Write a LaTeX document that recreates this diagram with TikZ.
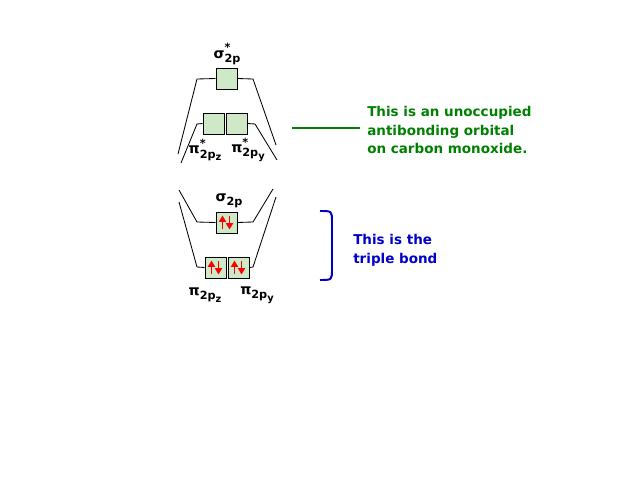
\documentclass[tikz,border=0pt]{standalone}
\usepackage{fontspec}
\setmainfont{DejaVu Sans}
\usetikzlibrary{arrows.meta,positioning,calc}
\definecolor{moFill}{RGB}{206,232,200}
\definecolor{moGreen}{RGB}{0,128,0}
\definecolor{moBlue}{RGB}{0,0,200}
%% orbital name with stacked super- and subscript
\newcommand{\moName}[3]{#1\rlap{\raisebox{4.5pt}{\fontsize{8}{8}\selectfont #2}}\raisebox{-3pt}{\fontsize{8}{8}\selectfont #3}}
\newcommand{\moAxis}[1]{\raisebox{-2pt}{\fontsize{7}{7}\selectfont #1}}
\tikzset{
  %% Orbital boxes
  moBox/.style={draw=black, fill=moFill, minimum size=0.525cm, inner sep=0pt, line width=0.7pt},
  %% Correlation lines
  moLine/.style={draw=black, line width=0.6pt},
  %% Electron spins
  moSpin/.style={-{Triangle[length=4.5pt,width=5pt]}, draw=red, fill=red, line width=1.1pt},
  %% Orbital labels
  moLabel/.style={font=\fontsize{10}{12}\selectfont\bfseries, inner sep=0pt},
  %% Side notes
  moNote/.style={font=\fontsize{9.6}{13.2}\selectfont\bfseries, align=left, inner sep=0pt, anchor=north west},
}
\begin{document}
\begin{tikzpicture}[x=0.025cm, y=-0.025cm]
\useasboundingbox (0,0) rectangle (640,480);
%% Antibonding orbitals
\node[moBox] (oSigS) at (226.5, 78.5) {};
\node[moBox] (oPiZs) at (213.5,123.5) {};
\node[moBox] (oPiYs) at (236.5,123.5) {};
\node[moLabel] (lSigS) at (227,54) {\moName{σ}{*}{2p}};
\node[moLabel] (lPiZs) at (205,150) {\moName{π}{*}{2p\moAxis{z}}};
\node[moLabel] (lPiYs) at (248,150) {\moName{π}{*}{2p\moAxis{y}}};

%% Bonding orbitals
\node[moBox] (oSig) at (226.5,222.5) {};
\node[moBox] (oPiZ) at (215.5,267.5) {};
\node[moBox] (oPiY) at (238.5,267.5) {};
\node[moLabel] (lSig) at (229,201) {\moName{σ}{}{2p}};
\node[moLabel] (lPiZ) at (205,295) {\moName{π}{}{2p\moAxis{z}}};
\node[moLabel] (lPiY) at (257,295) {\moName{π}{}{2p\moAxis{y}}};

%% Line ends
\coordinate (cSigSL) at (197,79);  \coordinate (cSigSLe) at (178,154);
\coordinate (cSigSR) at (253,79);  \coordinate (cSigSRe) at (276,145);
\coordinate (cPiSL)  at (197,124); \coordinate (cPiSLe)  at (181,163);
\coordinate (cPiSR)  at (255,124); \coordinate (cPiSRe)  at (277,160);
\coordinate (cSigL)  at (197,222); \coordinate (cSigLe)  at (179,190);
\coordinate (cSigR)  at (253,222); \coordinate (cSigRe)  at (273,189);
\coordinate (cPiL)   at (197,267); \coordinate (cPiLe)   at (179,202);
\coordinate (cPiR)   at (253,267); \coordinate (cPiRe)   at (276,197);

\draw[moLine] (oSigS.west) -- (cSigSL) -- (cSigSLe);
\draw[moLine] (oSigS.east) -- (cSigSR) -- (cSigSRe);
\draw[moLine] (oPiZs.west) -- (cPiSL) -- (cPiSLe);
\draw[moLine] (oPiYs.east) -- (cPiSR) -- (cPiSRe);
\draw[moLine] (oSig.west) -- (cSigL) -- (cSigLe);
\draw[moLine] (oSig.east) -- (cSigR) -- (cSigRe);
\draw[moLine] (oPiZ.west) -- (cPiL) -- (cPiLe);
\draw[moLine] (oPiY.east) -- (cPiR) -- (cPiRe);

%% Electron pairs
\foreach \b in {oSig, oPiZ, oPiY} {
  \draw[moSpin] ($(\b.center)+(-4,6.5)$) -- ($(\b.center)+(-4,-7)$);
  \draw[moSpin] ($(\b.center)+(3,-6.5)$) -- ($(\b.center)+(3,7)$);
}

%% Notes
\node[moNote, text=moGreen] (nAnti) at (367,106) {This is an unoccupied\\antibonding orbital\\on carbon monoxide.};
\coordinate (cGreenA) at (292,128);
\coordinate (cGreenB) at (360,128);
\draw[moGreen, line width=1.4pt] (cGreenA) -- (cGreenB);

\node[moNote, text=moBlue] (nTriple) at (353,234) {This is the\\triple bond};
\coordinate (cBrT) at (320,211);
\coordinate (cBrB) at (320,280);
\draw[moBlue, line width=1.4pt] (cBrT) .. controls (332,211) .. (332,222) -- (332,269) .. controls (332,280) .. (cBrB);
\end{tikzpicture}
\end{document}
